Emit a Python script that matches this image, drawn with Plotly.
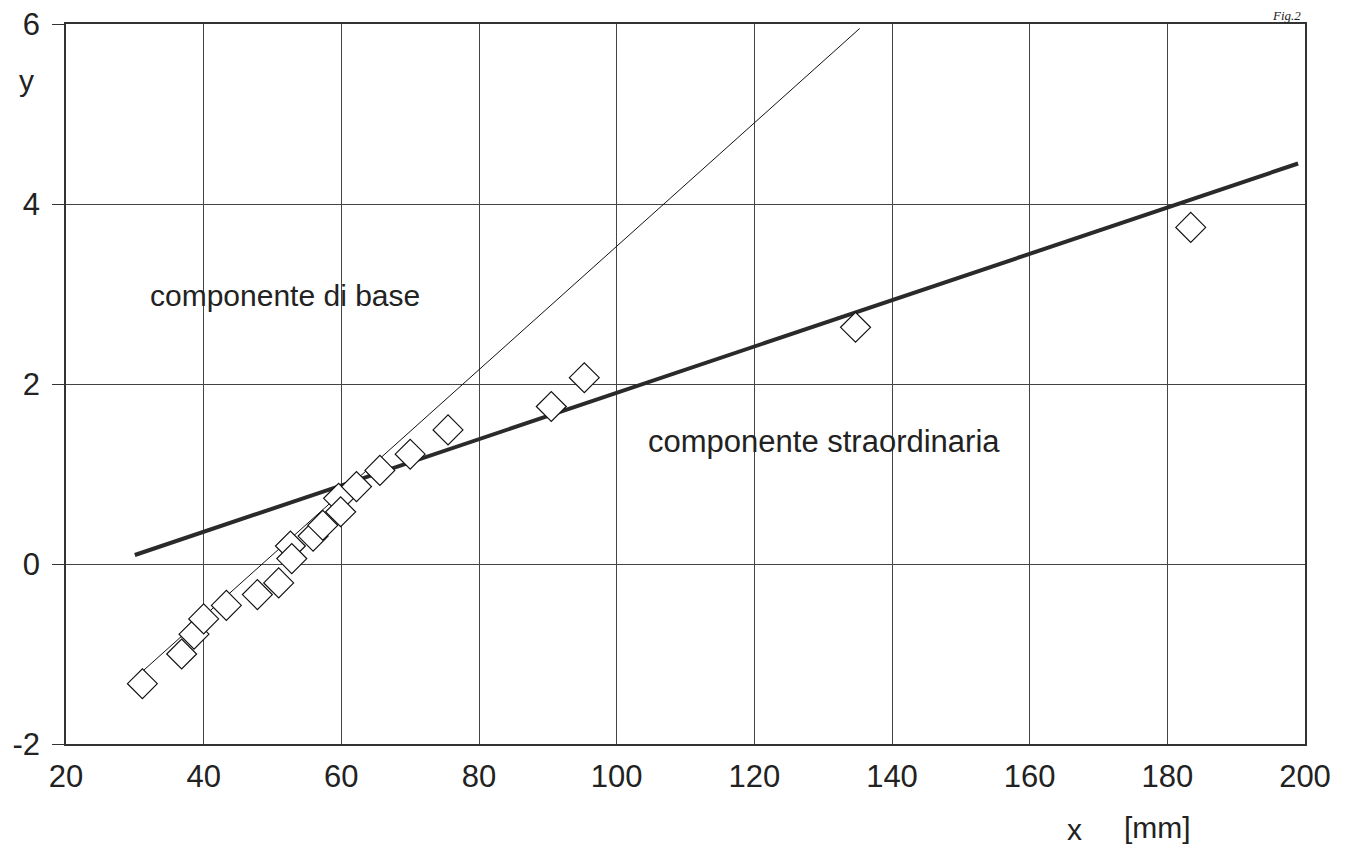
import plotly.graph_objects as go

# data points (x in mm, y reduced variate)
pts_x = [31.1, 36.8, 38.6, 40.0, 43.3, 47.8, 50.9, 52.6, 52.8, 55.9, 57.3, 59.6, 59.9,
         62.2, 65.6, 70.0, 75.5, 90.5, 95.3, 134.7, 183.4]
pts_y = [-1.33, -1.00, -0.78, -0.61, -0.46, -0.34, -0.21, 0.20, 0.06, 0.31, 0.43, 0.73, 0.58,
         0.86, 1.04, 1.22, 1.49, 1.75, 2.07, 2.63, 3.74]

# fitted lines
base_x = [31.0, 135.3]
base_y = [-1.20, 5.95]
extra_x = [30.0, 199.0]
extra_y = [0.10, 4.45]

x_ticks = [20, 40, 60, 80, 100, 120, 140, 160, 180, 200]
y_ticks = [-2, 0, 2, 4, 6]

FONT = "Liberation Sans, Arial, sans-serif"

fig = go.Figure()
fig.add_trace(go.Scatter(x=base_x, y=base_y, mode="lines",
                         line=dict(color="#111111", width=1), showlegend=False))
fig.add_trace(go.Scatter(x=extra_x, y=extra_y, mode="lines",
                         line=dict(color="#2a2a2a", width=4), showlegend=False))
fig.add_trace(go.Scatter(x=pts_x, y=pts_y, mode="markers",
                         marker=dict(symbol="diamond", size=23, color="white",
                                     line=dict(color="#111111", width=1.2)),
                         showlegend=False))

fig.update_layout(
    width=1339, height=851,
    margin=dict(l=58, r=42, t=16, b=115),
    paper_bgcolor="white", plot_bgcolor="white",
    font=dict(family=FONT, size=31, color="#222222"),
    xaxis=dict(range=[20, 200], tickvals=x_ticks, ticktext=[str(v) for v in x_ticks],
               showgrid=True, gridcolor="#444444", gridwidth=1,
               showline=True, linecolor="#333333", linewidth=1.5, mirror=True,
               ticks="", zeroline=False, ticklabelstandoff=4, automargin=False,
               ticklabeloverflow="allow"),
    yaxis=dict(range=[-2, 6], tickvals=y_ticks, ticktext=[str(v) for v in y_ticks],
               showgrid=True, gridcolor="#444444", gridwidth=1,
               showline=True, linecolor="#333333", linewidth=1.5, mirror=True,
               ticks="outside", ticklen=12, tickcolor="#333333",
               zeroline=False, ticklabelstandoff=6, automargin=False,
               ticklabeloverflow="allow"),
    annotations=[
        dict(text="componente di base", x=31.9, y=2.98, xref="x", yref="y",
             xanchor="left", yanchor="middle", showarrow=False, font=dict(size=30)),
        dict(text="componente straordinaria", x=104.2, y=1.36, xref="x", yref="y",
             xanchor="left", yanchor="middle", showarrow=False, font=dict(size=31)),
        dict(text="y", x=-0.0315, y=0.922, xref="paper", yref="paper",
             xanchor="center", yanchor="middle", showarrow=False, font=dict(size=30)),
        dict(text="x", x=0.8136, y=-0.119, xref="paper", yref="paper",
             xanchor="center", yanchor="middle", showarrow=False, font=dict(size=30)),
        dict(text="[mm]", x=0.881, y=-0.116, xref="paper", yref="paper",
             xanchor="center", yanchor="middle", showarrow=False, font=dict(size=30)),
        dict(text="<i>Fig.2</i>", x=0.985, y=1.0, xref="paper", yref="paper",
             xanchor="center", yanchor="bottom", showarrow=False, yshift=-1,
             font=dict(family="Liberation Serif, serif", size=13)),
    ],
)

fig.write_html("out.html")
